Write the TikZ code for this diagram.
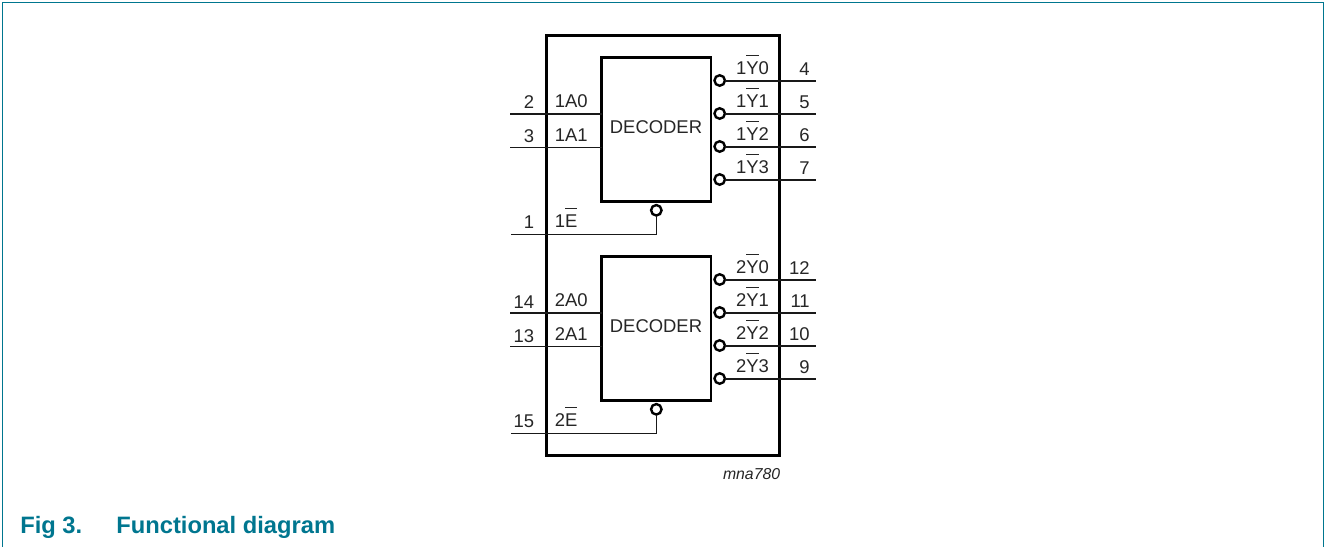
\documentclass[tikz,border=0pt]{standalone}
\usepackage{fontspec}
\setmainfont{Liberation Sans}
\usepackage{xcolor}
\definecolor{figteal}{HTML}{00768F}
\newcommand{\barred}[1]{$\overline{\mbox{\rule{0pt}{9.6pt}#1}}$}
\tikzset{
    label text/.style={inner sep=0pt, font=\fontsize{10.5}{12}\selectfont, text=black!85},
    caption text/.style={anchor=base west, inner sep=0pt, text=figteal, font=\fontsize{13.5}{16}\selectfont\bfseries},
    decoder/.style={draw, line width=2.5*0.02cm, outer sep=0pt, minimum width=109.5*0.02cm, minimum height=144*0.02cm, anchor=north west, inner sep=0pt},
    invert/.style={draw, circle, line width=2.4*0.02cm, outer sep=0pt, minimum size=10.5*0.02cm, inner sep=0pt},
    wire/.style={line width=1.2*0.02cm, black!90}
}

\begin{document}
\begin{tikzpicture}[x=0.02cm, y=-0.02cm]
    \useasboundingbox (0,0) rectangle (1325,547);

    % Teal frame and caption
    \draw[figteal, line width=1.6*0.02cm] (2.4,547) -- (2.4,2.4) -- (1323.4,2.4) -- (1323.4,547);
    \node[caption text] (figno) at (20,533) {Fig 3.};
    \node[caption text] (figtitle) at (116,533) {Functional diagram};

    % Outer package outline
    \node[draw, line width=2.6*0.02cm, outer sep=0pt, minimum width=233.3*0.02cm, minimum height=419.7*0.02cm, anchor=north west, inner sep=0pt] (chip) at (546.2,35.5) {};

    % Two decoder sections, each with its own pins
    \foreach \sect/\top/\pina/\pinb/\pine/\pinw/\pinx/\piny/\pinz in {1/0/2/3/1/4/5/6/7, 2/199/14/13/15/12/11/10/9} {
        \node[decoder] (dec\sect) at (601.7,57.7+\top) {};
        \node[label text] (name\sect) at (656,127+\top) {DECODER};

        % Address inputs
        \coordinate (a\sect0) at (510,114+\top);
        \coordinate (a\sect1) at (510,147.5+\top);
        \draw[wire] (a\sect0) -- (a\sect0 -| dec\sect.west);
        \draw[wire] (a\sect1) -- (a\sect1 -| dec\sect.west);
        \node[label text, anchor=base east] (pa\sect0) at (534.5,109+\top) {\pina};
        \node[label text, anchor=base east] (pa\sect1) at (534.5,143+\top) {\pinb};
        \node[label text, anchor=base west] (la\sect0) at (554.5,107.8+\top) {\sect A0};
        \node[label text, anchor=base west] (la\sect1) at (554.5,141.5+\top) {\sect A1};

        % Enable input
        \node[invert] (inv\sect) at (656.3,210.3+\top) {};
        \coordinate (e\sect) at (511,234.5+\top);
        \draw[wire] (inv\sect.south) |- (e\sect);
        \node[label text, anchor=base east] (pe\sect) at (534.5,228.8+\top) {\pine};
        \node[label text, anchor=base west] (le\sect) at (554.5,227.8+\top) {\sect\barred{E}};

        % Decoded outputs
        \foreach \i/\y/\pin in {0/81/\pinw, 1/114/\pinx, 2/147/\piny, 3/180/\pinz} {
            \node[invert] (inv\sect\i) at (719.7,\y-0.5+\top) {};
            \coordinate (y\sect\i) at (816,\y+\top);
            \draw[wire] (inv\sect\i.east |- y\sect\i) -- (y\sect\i);
            \node[label text, anchor=base east] (py\sect\i) at (810,\y-5.2+\top) {\pin};
            \node[label text, anchor=base west] (ly\sect\i) at (735.8,\y-6.7+\top) {\sect\barred{Y}\i};
        }
    }

    % Drawing code
    \node[label text, anchor=base east, font=\fontsize{9}{11}\selectfont\itshape] (code) at (780.5,479.5) {mna780};
\end{tikzpicture}
\end{document}
